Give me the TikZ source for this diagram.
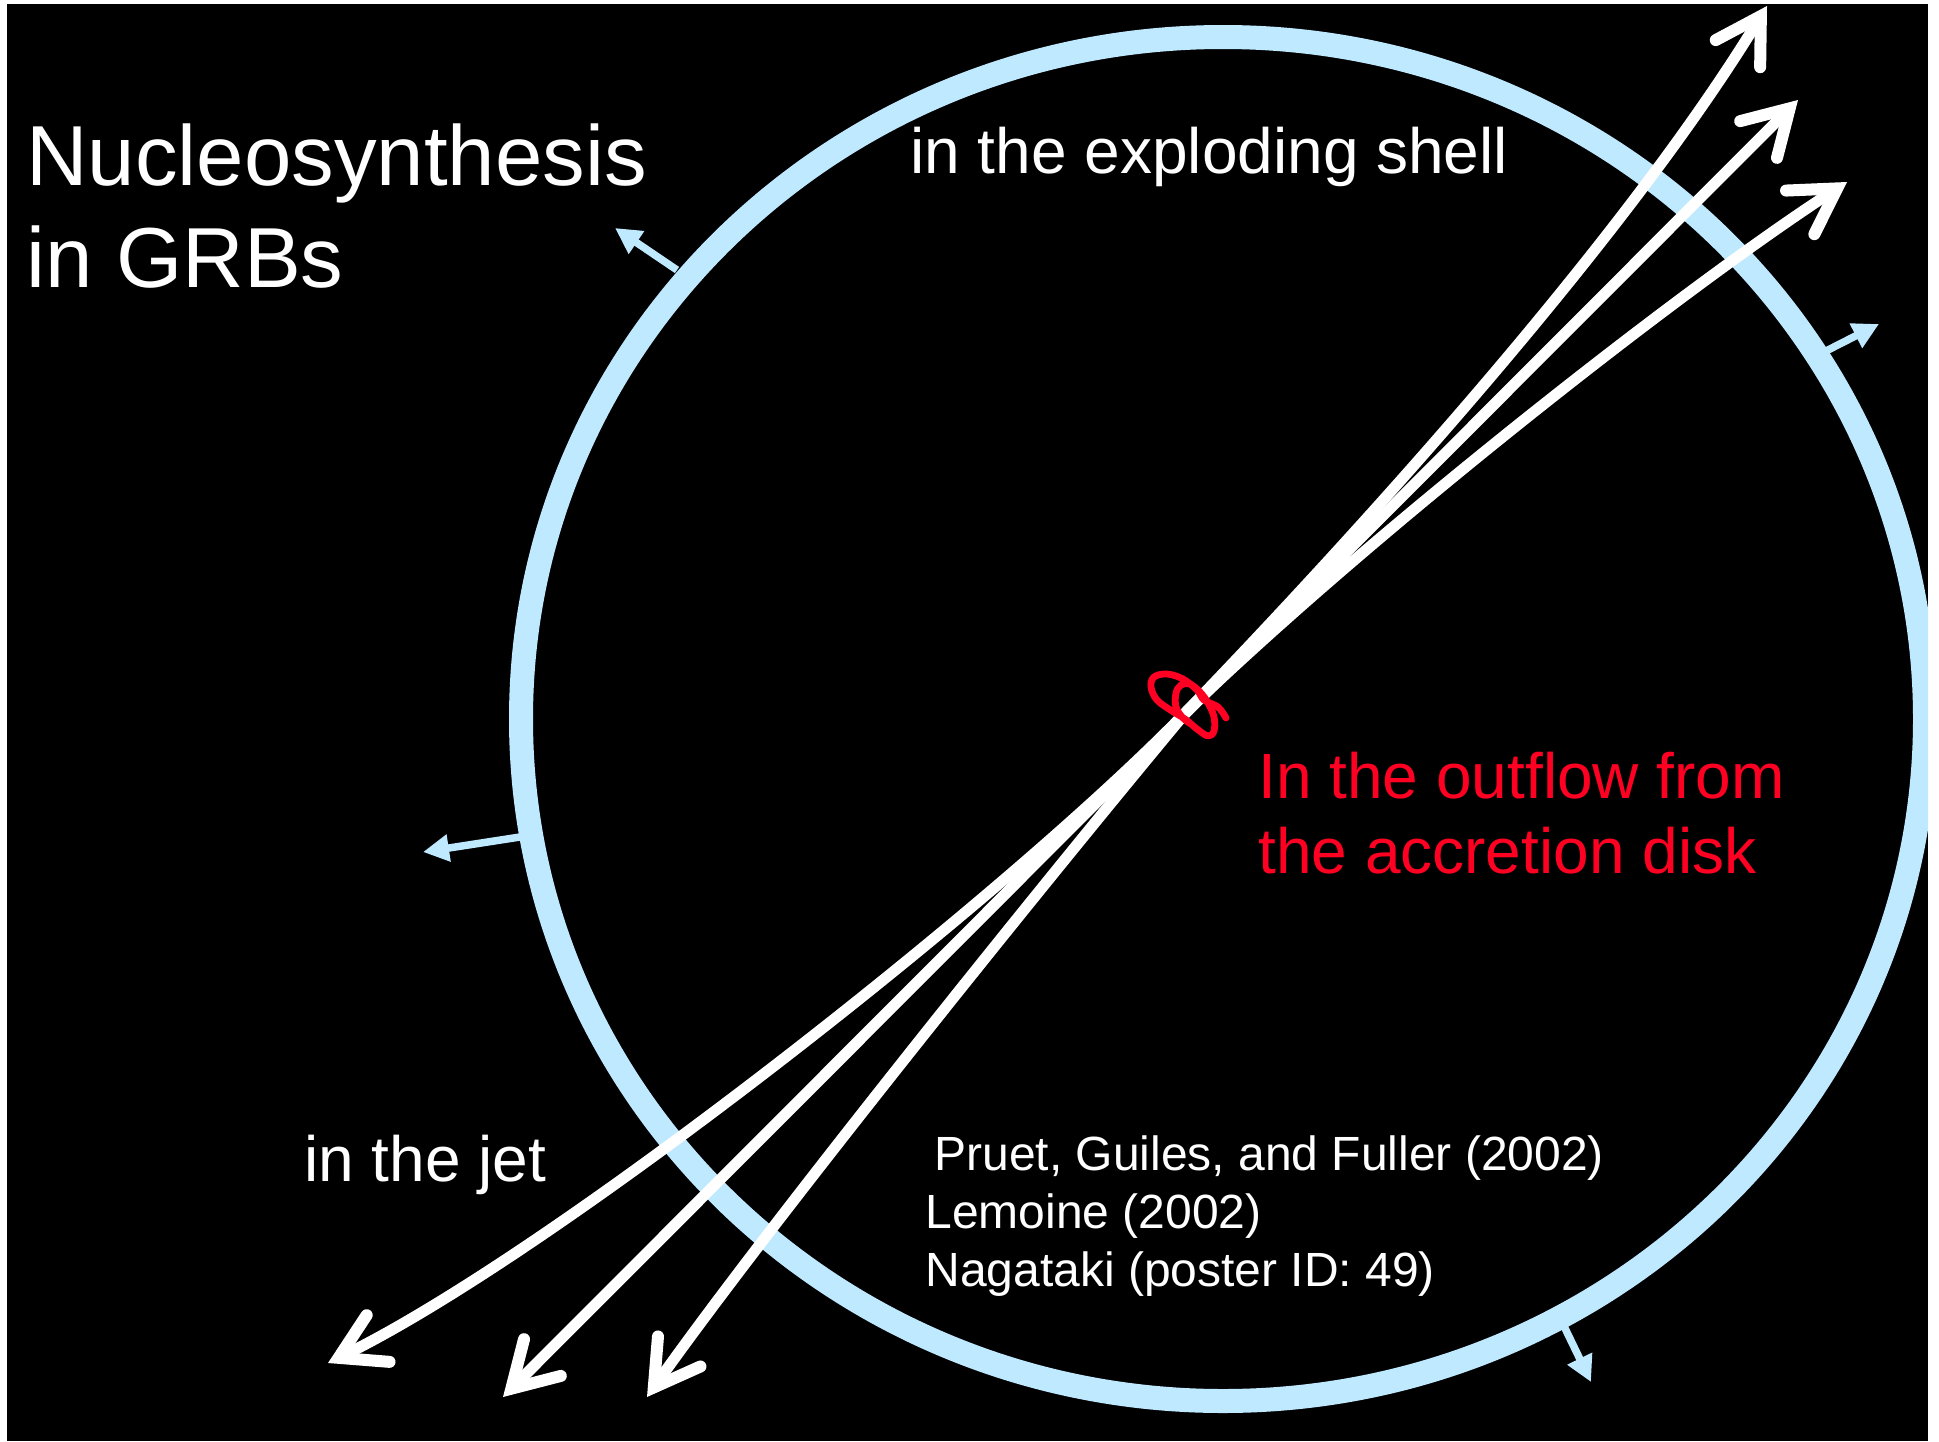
\documentclass[tikz,border=0pt]{standalone}
\usepackage{fontspec}
\setmainfont{Liberation Sans}
\usetikzlibrary{arrows.meta}
\definecolor{shellblue}{RGB}{190,233,255}
\definecolor{diskred}{RGB}{255,0,35}
\begin{document}
\begin{tikzpicture}[x=0.5pt,y=-0.5pt,
  jet/.style={draw=white,line width=5.5pt,
    arrows={Straight Barb[length=22pt,width=26pt,line width=6pt,line cap=round,line join=miter]-Straight Barb[length=22pt,width=26pt,line width=6pt,line cap=round,line join=miter]}},
  flow/.style={draw=shellblue,line width=3.75pt,-{Triangle[length=13pt,width=13pt]}},
  lbl/.style={anchor=base west,inner sep=0pt,text=white},
  big/.style={lbl,font=\fontsize{42.6pt}{51pt}\selectfont},
  mid/.style={lbl,font=\fontsize{32pt}{38pt}\selectfont},
  small/.style={lbl,font=\fontsize{24pt}{29pt}\selectfont}]
\useasboundingbox (0,0) rectangle (1939,1441);
\fill[white] (0,0) rectangle (1939,1441);
\fill[black] (7,4) rectangle (1928,1441);
\begin{scope}
\clip (7,4) rectangle (1928,1441);
% small outward arrows
\coordinate (s1) at (677,270); \coordinate (e1) at (615,228);
\coordinate (s2) at (520,837); \coordinate (e2) at (423,852);
\coordinate (s3) at (1826,351); \coordinate (e3) at (1879,324);
\coordinate (s4) at (1561,1320); \coordinate (e4) at (1591,1382);
\draw[flow] (s1) -- (e1);
\draw[flow] (s2) -- (e2);
\draw[flow] (s3) -- (e3);
\draw[flow] (s4) -- (e4);
% the shell
\draw[shellblue,line width=12pt] (1223,719) ellipse [x radius=702, y radius=682];
% jets
\coordinate (O) at (1187,711);
\coordinate (t1) at (1767,6);
\coordinate (t2) at (1798,100);
\coordinate (t3) at (1847,182);
\coordinate (bA) at (328,1363);
\coordinate (bB) at (503,1397);
\coordinate (bC) at (647,1397);
\draw[jet] (bC) .. controls (763,1233) and (1027,903) .. (O)
           .. controls (1395,495) and (1634,224) .. (t1);
\draw[jet] (bB) -- (t2);
\draw[jet] (bA) .. controls (555,1252) and (1013,891) .. (O)
           .. controls (1367,537) and (1679,291) .. (t3);
\end{scope}
% accretion disk scribble
\draw[diskred,line width=3.4pt,line cap=round,line join=round] plot[smooth,tension=0.6] coordinates {
 (1226,718) (1218,707) (1204,700) (1197,690) (1183,679) (1167,674) (1154,677)
 (1151,687) (1157,700) (1172,711) (1185,719) (1197,729) (1208,736) (1214,731)
 (1214,717) (1208,703) (1200,692) (1190,684) (1181,685) (1176,693) (1176,707)
 (1183,718) (1191,724)};
% texts
\node[big] (title1) at (26,185) {Nucleosynthesis};
\node[big] (title2) at (26,287) {in GRBs};
\node[mid] (shelltxt) at (910,173) {in the exploding shell};
\node[mid] (jettxt) at (304,1181) {in the jet};
\node[mid,text=diskred] (disk1) at (1258,798) {In the outflow from};
\node[mid,text=diskred] (disk2) at (1258,873) {the accretion disk};
\node[small] (ref1) at (934,1170) {Pruet, Guiles, and Fuller (2002)};
\node[small] (ref2) at (925,1228) {Lemoine (2002)};
\node[small] (ref3) at (925,1286) {Nagataki (poster ID: 49)};
\end{tikzpicture}
\end{document}
